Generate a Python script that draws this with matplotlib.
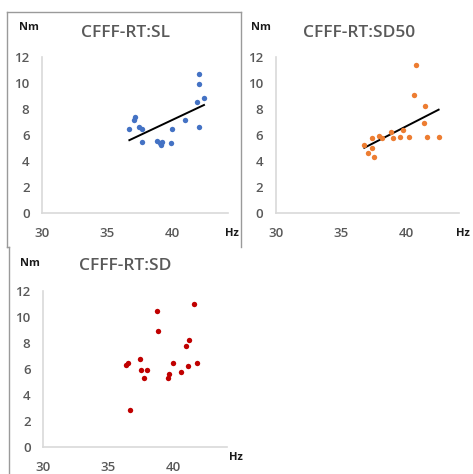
import numpy as np
import matplotlib.pyplot as plt
from matplotlib.lines import Line2D

# valeurs
sl_hz = [36.72, 37.10, 37.13, 37.44, 37.69, 37.69, 38.85, 39.05, 39.15, 39.23,
         39.95, 40.00, 40.97, 42.05, 42.10, 41.95, 42.46, 42.05]
sl_nm = [6.50, 7.19, 7.35, 6.58, 6.50, 5.43, 5.56, 5.36, 5.23, 5.43,
         5.36, 6.43, 7.14, 10.66, 9.95, 8.57, 8.83, 6.63]

sd50_hz = [36.79, 37.05, 37.36, 37.36, 37.51, 37.90, 38.15, 38.85, 39.03, 39.54,
           39.74, 40.21, 40.64, 40.79, 41.41, 41.49, 41.62, 42.51]
sd50_nm = [5.23, 4.65, 4.98, 5.74, 4.29, 5.92, 5.74, 6.20, 5.74, 5.87,
           6.38, 5.82, 9.06, 11.36, 6.89, 8.22, 5.82, 5.82]

sd_hz = [36.41, 36.54, 36.72, 37.44, 37.56, 37.77, 38.00, 38.79, 38.87, 39.62,
         39.67, 40.00, 40.64, 41.03, 41.23, 41.15, 41.59, 41.85]
sd_nm = [6.33, 6.46, 2.82, 6.74, 5.92, 5.33, 5.95, 10.49, 8.92, 5.33,
         5.59, 6.46, 5.77, 7.74, 8.21, 6.23, 11.03, 6.46]

x_ticks = [30, 35, 40]
y_ticks = [0, 2, 4, 6, 8, 10, 12]

W, H = 473, 474
fig = plt.figure(figsize=(W / 100, H / 100), dpi=100)
plt.rcParams['font.family'] = ['Open Sans', 'DejaVu Sans']

gris_axe = '#D9D9D9'
gris_txt = '#595959'


def panneau(gauche, droite, haut, bas, lx, ly, couleur, trend):
    ax = fig.add_axes([gauche / W, 1 - bas / H, (droite - gauche) / W, (bas - haut) / H])
    ax.scatter(lx, ly, s=15, color=couleur, zorder=3, linewidths=0)
    if trend:
        a, b = np.polyfit(lx, ly, 1)
        xs = np.array([min(lx), max(lx)])
        ax.plot(xs, a * xs + b, color='black', lw=1.4, zorder=2)
    ax.set_xlim(30, 30 + (droite - gauche) / 13)
    ax.set_ylim(0, 12)
    ax.set_xticks(x_ticks)
    ax.set_yticks(y_ticks)
    for s in ['top', 'right']:
        ax.spines[s].set_visible(False)
    for s in ['left', 'bottom']:
        ax.spines[s].set_color(gris_axe)
        ax.spines[s].set_linewidth(1.2)
    ax.tick_params(length=0, labelsize=9.5, labelcolor=gris_txt)
    ax.tick_params(axis='x', pad=10)
    ax.tick_params(axis='y', pad=9)
    for lab in ax.get_xticklabels() + ax.get_yticklabels():
        lab.set_fontweight('semibold')
    ax.patch.set_alpha(0)
    return ax


def textes(xt, yt, xnm, ynm, xhz, yhz, titre):
    fig.text(xt / W, 1 - yt / H, titre, ha='center', va='center', fontsize=12.5,
             color=gris_txt, fontweight='semibold')
    fig.text(xnm / W, 1 - ynm / H, "Nm", ha='center', va='center', fontsize=8,
             fontweight='bold', color='#1a1a1a')
    fig.text(xhz / W, 1 - yhz / H, "Hz", ha='center', va='center', fontsize=8,
             fontweight='bold', color='#1a1a1a')


panneau(42, 228, 57, 213, sl_hz, sl_nm, '#4472C4', True)
textes(125, 33, 29, 28, 232, 233, "CFFF-RT:SL")

panneau(276, 459, 57, 213, sd50_hz, sd50_nm, '#ED7D31', True)
textes(359, 33, 261, 27, 463, 233, "CFFF-RT:SD50")

panneau(43, 227, 291, 447, sd_hz, sd_nm, '#C00000', False)
textes(125, 266, 30, 263, 236, 458, "CFFF-RT:SD")

# cadres
cadre = '#9A9A9A'
for (x0, y0, x1, y1) in [(7, 12, 241, 12), (7, 12, 7, 247), (241, 12, 241, 247),
                         (7, 247, 9, 247), (9, 247, 9, 474)]:
    fig.add_artist(Line2D([x0 / W, x1 / W], [1 - y0 / H, 1 - y1 / H],
                          color=cadre, lw=1, transform=fig.transFigure))

fig.savefig("out.png", dpi=100)
